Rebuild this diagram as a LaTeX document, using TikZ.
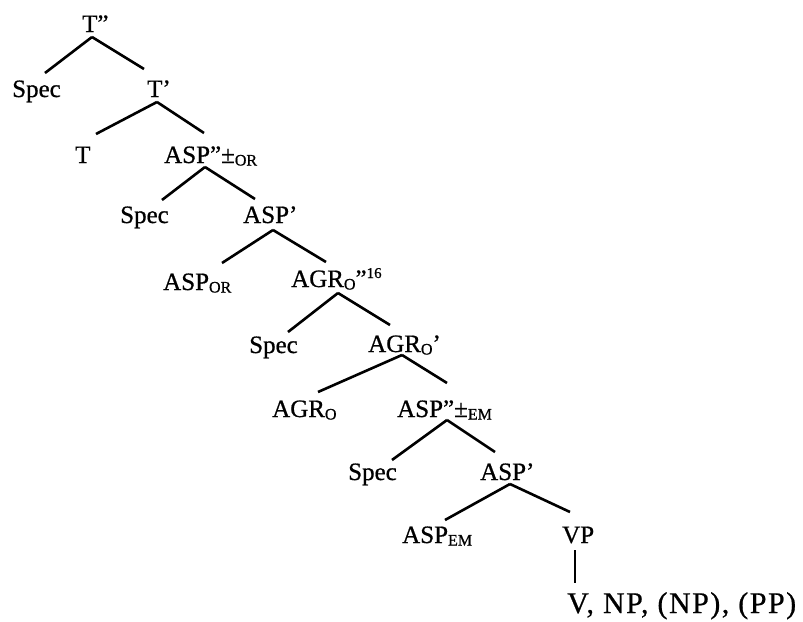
\documentclass[tikz,border=0pt]{standalone}
\usepackage{fontspec}
\setmainfont{Liberation Serif}[FakeBold=0.7]
\newcommand\subsc[1]{\raisebox{-2.5pt}{\fontsize{16}{16}\selectfont #1}}
\newcommand\supsc[1]{\raisebox{9pt}{\fontsize{15}{15}\selectfont #1}}
\begin{document}
\begin{tikzpicture}[x=1pt,y=-1pt,
  lab/.style={anchor=base west,inner sep=0pt,font=\fontsize{25}{25}\selectfont},
  br/.style={line width=2.6pt}]
\useasboundingbox (0,0) rectangle (803,621);
\node[lab] (tpp) at (82,32) {T”};
\node[lab] (spec1) at (12,97) {Spec};
\node[lab] (tp) at (147,97) {T’};
\node[lab] (t) at (75,163) {T};
\node[lab] (aspor2) at (164,163) {ASP”±\subsc{OR}};
\node[lab] (spec2) at (120,223) {Spec};
\node[lab] (asp1) at (243,223) {ASP’};
\node[lab] (aspor) at (163,290) {ASP\subsc{OR}};
\node[lab] (agrpp) at (291,287) {AGR\subsc{O}”\supsc{16}};
\node[lab] (spec3) at (249,353) {Spec};
\node[lab] (agrp) at (368,352) {AGR\subsc{O}’};
\node[lab] (agr) at (272,417) {AGR\subsc{O}};
\node[lab] (aspem2) at (397,417) {ASP”±\subsc{EM}};
\node[lab] (spec4) at (348,480) {Spec};
\node[lab] (asp2) at (480,480) {ASP’};
\node[lab] (aspem) at (402,543) {ASP\subsc{EM}};
\node[lab] (vp) at (562,543) {VP};
\node[lab,font=\fontsize{30}{30}\selectfont\addfontfeature{LetterSpace=5}] (bot) at (567,613) {V, NP, (NP), (PP)};
\draw[br] ([shift={(10,5)}]tpp.base west) -- ([shift={(33,-24)}]spec1.base west);
\draw[br] ([shift={(10,5)}]tpp.base west) -- ([shift={(-3,-28)}]tp.base west);
\draw[br] ([shift={(10,5)}]tp.base west) -- ([shift={(21,-29)}]t.base west);
\draw[br] ([shift={(10,5)}]tp.base west) -- ([shift={(40,-30)}]aspor2.base west);
\draw[br] ([shift={(41,4)}]aspor2.base west) -- ([shift={(42,-23)}]spec2.base west);
\draw[br] ([shift={(41,4)}]aspor2.base west) -- ([shift={(12,-24)}]asp1.base west);
\draw[br] ([shift={(30,7)}]asp1.base west) -- ([shift={(59,-27)}]aspor.base west);
\draw[br] ([shift={(30,7)}]asp1.base west) -- ([shift={(35,-25)}]agrpp.base west);
\draw[br] ([shift={(47,6)}]agrpp.base west) -- ([shift={(39,-21)}]spec3.base west);
\draw[br] ([shift={(47,6)}]agrpp.base west) -- ([shift={(22,-27)}]agrp.base west);
\draw[br] ([shift={(34,3)}]agrp.base west) -- ([shift={(46,-25)}]agr.base west);
\draw[br] ([shift={(34,3)}]agrp.base west) -- ([shift={(50,-34)}]aspem2.base west);
\draw[br] ([shift={(50,3)}]aspem2.base west) -- ([shift={(44,-20)}]spec4.base west);
\draw[br] ([shift={(50,3)}]aspem2.base west) -- ([shift={(15,-28)}]asp2.base west);
\draw[br] ([shift={(30,4)}]asp2.base west) -- ([shift={(43,-23)}]aspem.base west);
\draw[br] ([shift={(30,4)}]asp2.base west) -- ([shift={(8,-31)}]vp.base west);
\draw[br] ([shift={(13,7)}]vp.base west) -- ([shift={(8,-30)}]bot.base west);
\end{tikzpicture}
\end{document}
